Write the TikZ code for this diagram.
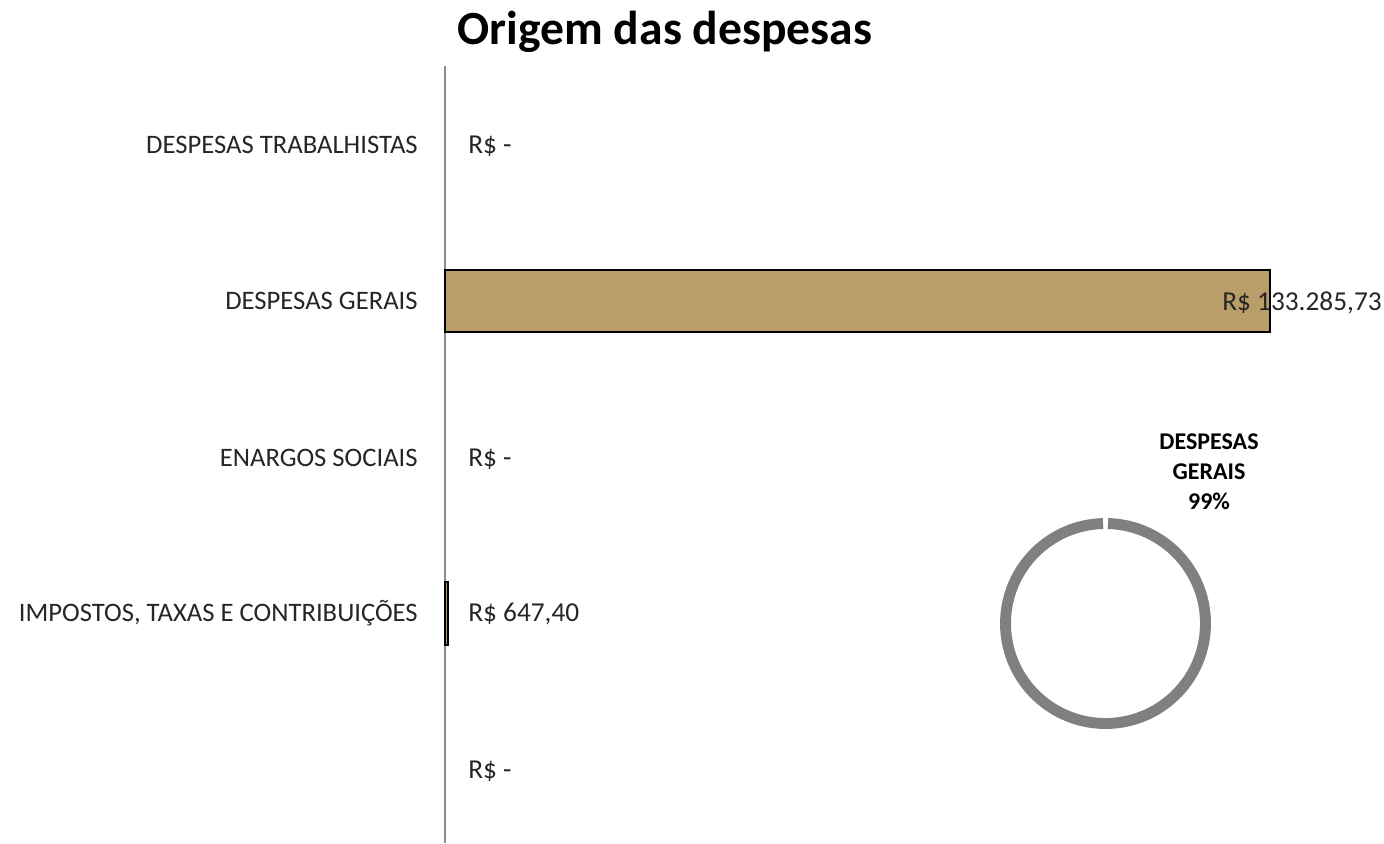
\documentclass[tikz,border=0pt]{standalone}
\usepackage{fontspec}
\setmainfont{Carlito}
\usepackage{tikz}

\definecolor{barfill}{RGB}{185,158,106}
\definecolor{ringgray}{RGB}{128,128,128}
\definecolor{axisgray}{RGB}{140,140,140}

\begin{document}
\begin{tikzpicture}[x=0.75pt,y=0.75pt,yscale=-1,xscale=1,
  catlabel/.style={anchor=east,inner sep=0pt,font=\fontsize{20}{24}\selectfont,text=black!85},
  vallabel/.style={anchor=west,inner sep=0pt,font=\fontsize{20.5}{24}\selectfont,text=black!85},
  bar/.style={draw=black,line width=1.5pt,fill=barfill}]
\useasboundingbox (0,0) rectangle (1384,843);

% Title
\node (title) at (665,32) {\fontsize{35.7}{40}\selectfont\bfseries Origem das despesas};

% Axis
\draw [color=axisgray,line width=0.9pt] (445,66) -- (445,843);

% Bars
\draw [bar] (445,269.5) rectangle (1270,331.5);
\draw [bar] (445,582) rectangle (448,644.5);

% Category labels
\node [catlabel] (trab) at (418,145) {DESPESAS TRABALHISTAS};
\node [catlabel] (gerais) at (418,301) {DESPESAS GERAIS};
\node [catlabel] (encargos) at (418,458) {ENARGOS SOCIAIS};
\node [catlabel] (impostos) at (418,613) {IMPOSTOS, TAXAS E CONTRIBUIÇÕES};

% Value labels
\node [vallabel] (vtrab) at (468,146) {R\$ -};
\node [vallabel] (vgerais) at (1222,303) {R\$ 133.285,73};
\node [vallabel] (vencargos) at (468,459) {R\$ -};
\node [vallabel] (vimpostos) at (468,614) {R\$ 647,40};
\node [vallabel] (vextra) at (468,771) {R\$ -};

% Ring
\draw [color=ringgray,line width=8.2pt] (1105.5,623.5) ++(-88.6:100) arc (-88.6:268.6:100);
\node [align=center,inner sep=0pt,font=\fontsize{18}{22.5}\selectfont\bfseries] (ringlabel) at (1209,472) {DESPESAS\\GERAIS\\99\%};

\end{tikzpicture}
\end{document}
